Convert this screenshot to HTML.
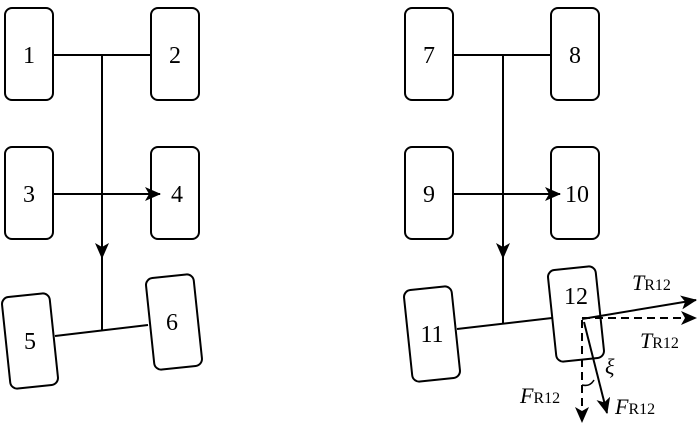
<!DOCTYPE html>
<html><head><style>body{margin:0;background:#fff}svg{display:block}text{font-family:"Liberation Serif",serif;fill:#000}</style></head><body>
<svg width="700" height="424" viewBox="0 0 700 424" xmlns="http://www.w3.org/2000/svg">
<defs><marker id="a" markerWidth="10" markerHeight="10" refX="9" refY="5" orient="auto" markerUnits="userSpaceOnUse"><path d="M0,0 L10,5 L0,10 L3,5 Z" fill="#000"/></marker>
<marker id="b" markerWidth="16" markerHeight="14" refX="15" refY="7" orient="auto" markerUnits="userSpaceOnUse"><path d="M0,0 L16,7 L0,14 L4,7 Z" fill="#000"/></marker></defs>
<g fill="none" stroke="#000" stroke-width="2">
<rect x="5" y="8" width="48" height="92" rx="7"/><rect x="151" y="8" width="48" height="92" rx="7"/>
<rect x="5" y="147" width="48" height="92" rx="7"/><rect x="151" y="147" width="48" height="92" rx="7"/>
<rect x="6" y="295" width="48" height="92" rx="7" transform="rotate(-6 30 341)"/>
<rect x="150" y="276" width="48" height="92" rx="7" transform="rotate(-6 174 322)"/>
<line x1="53" y1="55" x2="151" y2="55"/><line x1="102" y1="55" x2="102" y2="330"/>
<line x1="53" y1="194" x2="160" y2="194" marker-end="url(#b)"/>
<line x1="102" y1="200" x2="102" y2="258" marker-end="url(#b)"/>
<line x1="55" y1="336" x2="148" y2="325"/>
<rect x="405" y="8" width="48" height="92" rx="7"/><rect x="551" y="8" width="48" height="92" rx="7"/>
<rect x="405" y="147" width="48" height="92" rx="7"/><rect x="551" y="147" width="48" height="92" rx="7"/>
<rect x="408" y="288" width="48" height="92" rx="7" transform="rotate(-6 432 334)"/>
<rect x="552" y="268" width="48" height="92" rx="7" transform="rotate(-6 576 314)"/>
<line x1="453" y1="55" x2="551" y2="55"/><line x1="503" y1="55" x2="503" y2="323"/>
<line x1="453" y1="194" x2="560" y2="194" marker-end="url(#b)"/>
<line x1="503" y1="200" x2="503" y2="258" marker-end="url(#b)"/>
<line x1="457" y1="329" x2="552" y2="318"/>
<line x1="582" y1="319" x2="696" y2="300" marker-end="url(#b)"/>
<line x1="582" y1="318" x2="696" y2="318" stroke-dasharray="8,5" marker-end="url(#b)"/>
<line x1="582" y1="320" x2="582" y2="422" stroke-dasharray="8,5" marker-end="url(#b)"/>
<line x1="584" y1="322" x2="607" y2="413" marker-end="url(#b)"/>
<path d="M582,385 Q590,387 594,380" stroke-width="1.5"/>
</g>
<g font-size="24" text-anchor="middle">
<text x="29" y="63">1</text><text x="175" y="63">2</text><text x="29" y="202">3</text><text x="177" y="202">4</text>
<text x="30" y="349">5</text><text x="172" y="330">6</text>
<text x="429" y="63">7</text><text x="575" y="63">8</text><text x="429" y="202">9</text><text x="577" y="202">10</text>
<text x="432" y="342">11</text><text x="576" y="304">12</text>
</g>
<g font-size="22">
<text x="632" y="290"><tspan font-style="italic">T</tspan><tspan font-size="16">R12</tspan></text>
<text x="640" y="348"><tspan font-style="italic">T</tspan><tspan font-size="16">R12</tspan></text>
<text x="520" y="403"><tspan font-style="italic">F</tspan><tspan font-size="16">R12</tspan></text>
<text x="615" y="414"><tspan font-style="italic">F</tspan><tspan font-size="16">R12</tspan></text>
<text x="605" y="374" font-style="italic">ξ</text>
</g>
</svg>
</body></html>
